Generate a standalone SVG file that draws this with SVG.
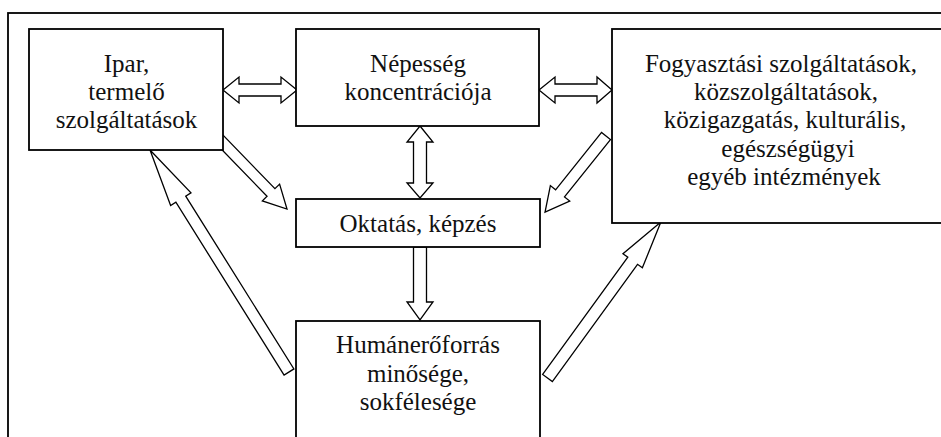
<svg xmlns="http://www.w3.org/2000/svg" width="941" height="437" viewBox="0 0 941 437">
<style>
.box{fill:#fff;stroke:#000;stroke-width:1.8}
.frame{fill:none;stroke:#000;stroke-width:1.8}
.arr{fill:#fff;stroke:#000;stroke-width:1.3;stroke-linejoin:miter}
.t{font-size:25px;fill:#111;text-anchor:middle}
</style>
<rect width="941" height="437" fill="#fff"/>
<rect class="frame" x="8" y="13" width="1000" height="500"/>
<g id="connectors">
<path class="arr" transform="translate(217.4,137.2) rotate(45.9)" d="M0,-5.5 L77,-5.5 L77,-12 L100,0 L77,12 L77,5.5 L0,5.5 Z"/>
<path class="arr" transform="translate(606,136) rotate(128.7)" d="M0,-5.7 L73.5,-5.7 L73.5,-12.4 L97.5,0 L73.5,12.4 L73.5,5.7 L0,5.7 Z"/>
<path class="arr" transform="translate(289,372) rotate(-122.05)" d="M0,-5.8 L203.9,-5.8 L203.9,-12 L261.9,0 L203.9,12 L203.9,5.8 L0,5.8 Z"/>
<path class="arr" transform="translate(547.5,378) rotate(-54)" d="M0,-6 L144.9,-6 L144.9,-12 L192.9,0 L144.9,12 L144.9,6 L0,6 Z"/>
<path class="arr" d="M223,90 L239,77 L239,84 L281,84 L281,77 L297,90 L281,103 L281,96 L239,96 L239,103 Z"/>
<path class="arr" d="M539,90 L555,77 L555,84 L597,84 L597,77 L612,90 L597,103 L597,96 L555,96 L555,103 Z"/>
<path class="arr" d="M420,126 L433,142 L426.5,142 L426.5,183 L433,183 L420,198 L407,183 L413.5,183 L413.5,142 L407,142 Z"/>
<path class="arr" d="M413.5,247 L426.5,247 L426.5,302 L433,302 L420,320 L407,302 L413.5,302 Z"/>
</g>
<g font-family="'Liberation Serif', 'DejaVu Serif', serif">
<g id="ipar">
<rect class="box" x="29" y="29" width="194" height="121"/>
<text class="t" x="126.5" y="72">Ipar,</text>
<text class="t" x="126.5" y="100">termelő</text>
<text class="t" x="126.5" y="128">szolgáltatások</text>
</g>
<g id="nepesseg">
<rect class="box" x="296" y="29" width="243" height="97"/>
<text class="t" x="418" y="72">Népesség</text>
<text class="t" x="418" y="100">koncentrációja</text>
</g>
<g id="fogyasztasi">
<rect class="box" x="612" y="29" width="400" height="194"/>
<text class="t" x="781" y="72">Fogyasztási szolgáltatások,</text>
<text class="t" x="786" y="100">közszolgáltatások,</text>
<text class="t" x="785" y="128">közigazgatás, kulturális,</text>
<text class="t" x="788" y="157">egészségügyi</text>
<text class="t" x="784" y="185">egyéb intézmények</text>
</g>
<g id="oktatas">
<rect class="box" x="296" y="199" width="244" height="48"/>
<text class="t" x="418" y="232">Oktatás, képzés</text>
</g>
<g id="human">
<rect class="box" x="296" y="321" width="244" height="200"/>
<text class="t" x="418" y="353">Humánerőforrás</text>
<text class="t" x="418" y="381.5">minősége,</text>
<text class="t" x="418" y="410">sokfélesége</text>
</g>
</g>
</svg>
